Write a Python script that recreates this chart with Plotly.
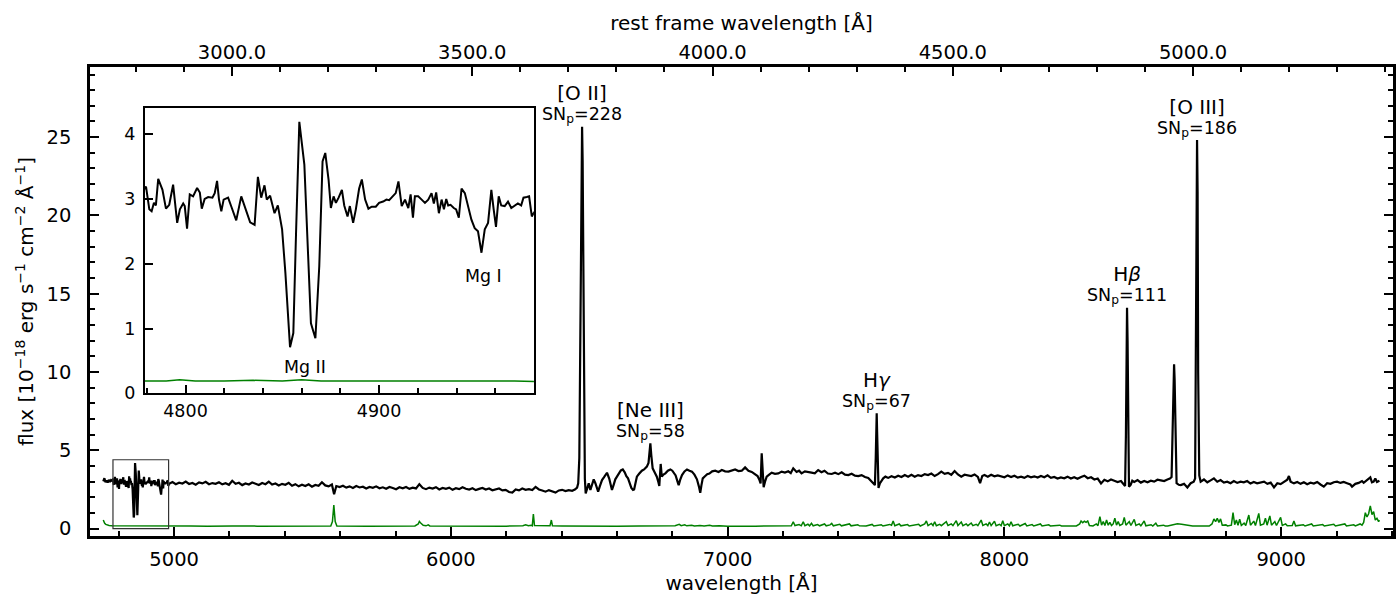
import plotly.graph_objects as go

FONT = "DejaVu Sans"
REDSHIFT = 0.7363

# Blue end of the spectrum, finely sampled (this stretch is also shown in the Mg II inset)
BLUE_WAVE = [
    4744, 4748, 4752, 4756, 4760, 4764, 4768, 4772, 4776,
    4779.6, 4781.3, 4782.5, 4783.7, 4784.7, 4785.9, 4788.1, 4789.9, 4791.6, 4793.6,
    4795.7, 4797.1, 4798.8, 4799.6, 4800.8, 4802.2, 4803.9, 4806.0, 4807.4, 4808.4,
    4809.9, 4811.7, 4813.9, 4815.1, 4816.3, 4817.3, 4818.5, 4819.7, 4822.0, 4823.7,
    4826.2, 4828.8, 4831.0, 4833.4, 4835.7, 4837.4, 4839.1, 4840.8, 4842.0, 4843.7,
    4846.0, 4847.7, 4849.9, 4851.6, 4854.0, 4855.7, 4857.1, 4858.8, 4861.4, 4864.8,
    4867.1, 4869.1, 4870.8, 4872.2, 4873.9, 4875.1, 4876.5, 4877.7, 4879.1, 4880.8,
    4882.0, 4883.7, 4884.9, 4886.6, 4888.0, 4889.7, 4891.1, 4892.8, 4894.5, 4896.2,
    4898.3, 4900.0, 4902.1, 4903.8, 4905.2, 4906.9, 4908.6, 4910.0, 4911.7, 4913.4,
    4915.1, 4916.3, 4917.5, 4918.5, 4920.2, 4922.0, 4923.7, 4925.4, 4927.1, 4928.3,
    4929.5, 4930.9, 4932.3, 4933.5, 4934.7, 4935.7, 4936.9, 4938.6, 4939.8, 4941.2,
    4942.6, 4944.3, 4946.0, 4947.7, 4949.4, 4951.1, 4952.9, 4954.6, 4956.3, 4958.0,
    4959.2, 4960.4, 4961.8, 4963.1, 4964.9, 4966.6, 4968.3, 4970.0, 4971.7, 4973.4,
    4974.6, 4976.3, 4977.5, 4978.9, 4979.8,
]
BLUE_FLUX = [
    3.02, 3.22, 2.96, 3.08, 2.94, 3.12, 2.98, 3.10, 3.05,
    3.19, 2.84, 2.81, 2.94, 2.90, 3.31, 3.14, 2.85, 2.91, 3.22,
    2.63, 2.84, 2.93, 2.89, 2.54, 3.07, 3.04, 3.17, 3.10, 2.85,
    3.00, 3.03, 3.02, 3.09, 3.28, 2.99, 2.81, 2.99, 3.02, 2.88,
    2.67, 3.04, 2.85, 2.64, 2.60, 3.34, 3.02, 3.21, 2.99, 3.05,
    2.78, 2.90, 2.53, 1.86, 0.71, 0.93, 2.47, 4.19, 3.53, 1.08,
    0.85, 1.96, 3.58, 3.71, 3.30, 2.86, 3.04, 2.94, 3.02, 3.14,
    2.90, 2.73, 2.89, 2.63, 2.84, 3.16, 3.30, 2.99, 2.85, 2.88,
    2.88, 2.94, 2.96, 2.99, 2.98, 3.04, 3.09, 3.27, 2.89, 2.99,
    2.86, 3.07, 2.71, 3.04, 3.04, 2.99, 2.94, 2.99, 3.09, 2.93,
    3.10, 2.78, 2.99, 2.84, 3.00, 2.90, 2.91, 2.86, 2.84, 2.71,
    3.16, 3.09, 2.89, 2.68, 2.55, 2.50, 2.17, 2.53, 2.63, 3.14,
    2.84, 2.57, 3.04, 2.90, 2.89, 2.96, 2.86, 2.90, 2.93, 2.90,
    3.02, 3.03, 3.04, 2.73, 2.78,
]

# Rest of the spectrum, from 4982 A to the red end
RED_WAVE = [
    4982, 4994, 5006, 5018, 5030, 5042, 5054, 5066, 5078, 5090, 5102, 5114, 5126, 5138,
    5150, 5162, 5174, 5186, 5198, 5210, 5222, 5234, 5246, 5258, 5270, 5282, 5294, 5306,
    5318, 5330, 5342, 5354, 5366, 5378, 5390, 5402, 5414, 5426, 5438, 5450, 5462, 5474,
    5486, 5498, 5510, 5522, 5534, 5546, 5558, 5570, 5578, 5586, 5598, 5610, 5622, 5634,
    5646, 5658, 5670, 5682, 5694, 5706, 5718, 5730, 5742, 5754, 5766, 5778, 5790, 5802,
    5814, 5826, 5838, 5850, 5862, 5874, 5886, 5898, 5910, 5922, 5934, 5946, 5958, 5970,
    5982, 5994, 6006, 6018, 6030, 6042, 6054, 6066, 6078, 6090, 6102, 6114, 6126, 6138,
    6150, 6162, 6174, 6186, 6198, 6210, 6222, 6234, 6246, 6258, 6270, 6282, 6294, 6306,
    6318, 6330, 6342, 6354, 6366, 6378, 6390, 6402, 6414, 6426, 6438, 6448, 6456,
    6460, 6464, 6467, 6470, 6472, 6474, 6476, 6478, 6481, 6484, 6487,
    6492, 6498, 6504, 6510, 6516, 6522, 6528, 6532, 6538, 6546, 6554, 6564, 6572, 6578,
    6582, 6588, 6594, 6600, 6608, 6614, 6621, 6628, 6634, 6640, 6646, 6652, 6658, 6662,
    6668, 6672, 6680, 6690, 6698, 6708, 6714, 6717, 6720.7, 6724, 6729, 6736, 6744, 6750,
    6753, 6758, 6762, 6768, 6775, 6784, 6793, 6800, 6806, 6812, 6818, 6823, 6828, 6835,
    6844, 6853, 6862, 6871, 6880, 6889, 6896, 6901, 6905, 6910, 6918, 6926, 6934, 6944,
    6955, 6967, 6979, 6991, 7003, 7015, 7027, 7039, 7051, 7063, 7075, 7087, 7099, 7108,
    7115, 7119, 7123, 7126, 7130, 7135, 7141, 7150, 7159, 7171, 7183, 7195, 7207, 7219,
    7228, 7237, 7249, 7258, 7267, 7279, 7291, 7303, 7315, 7327, 7339, 7350, 7362, 7376,
    7388, 7400, 7412, 7424, 7436, 7448, 7460, 7472, 7484, 7496, 7508, 7520, 7528, 7532,
    7535, 7537, 7538.5, 7540, 7542, 7545, 7550, 7556, 7562, 7570, 7580, 7592, 7604, 7616,
    7628, 7640, 7652, 7664, 7676, 7688, 7700, 7712, 7724, 7736, 7748, 7760, 7772, 7784,
    7796, 7808, 7820, 7832, 7844, 7856, 7868, 7880, 7892, 7904, 7912, 7920, 7928, 7940,
    7952, 7964, 7976, 7988, 8000, 8012, 8024, 8036, 8048, 8060, 8072, 8084, 8096, 8108,
    8120, 8132, 8144, 8156, 8168, 8180, 8192, 8204, 8216, 8228, 8240, 8252, 8264, 8277,
    8289, 8301, 8313, 8325, 8337, 8349, 8361, 8373, 8385, 8397, 8409, 8421, 8430, 8436,
    8439, 8441, 8443, 8445, 8447, 8450, 8456, 8462, 8469, 8481, 8493, 8505, 8517, 8529,
    8541, 8553, 8565, 8577, 8589, 8598, 8604, 8608, 8611, 8613, 8615, 8618, 8622, 8630,
    8637, 8649, 8661, 8673, 8684, 8689, 8692, 8694, 8696, 8698, 8700, 8704, 8709, 8721,
    8733, 8745, 8757, 8769, 8781, 8793, 8805, 8817, 8829, 8841, 8853, 8865, 8877, 8889,
    8901, 8913, 8926, 8938, 8950, 8962, 8974, 8986, 8998, 9010, 9022, 9028, 9034, 9046,
    9058, 9070, 9082, 9094, 9106, 9118, 9130, 9142, 9154, 9166, 9178, 9190, 9202, 9214,
    9226, 9238, 9250, 9256, 9268, 9280, 9292, 9298, 9310, 9316, 9322, 9328, 9334, 9340,
    9346, 9355,
]
RED_FLUX = [
    2.86, 2.97, 2.84, 2.93, 2.88, 3.00, 2.85, 2.92, 2.81, 2.95, 2.89, 2.99, 2.84, 2.91,
    2.86, 2.96, 2.83, 2.90, 2.80, 3.06, 2.87, 2.93, 2.78, 2.88, 2.82, 2.95, 2.86, 2.79,
    2.91, 2.84, 3.00, 2.82, 2.88, 2.76, 2.86, 2.80, 2.92, 2.74, 2.84, 2.70, 2.80, 2.72,
    2.83, 2.68, 2.79, 2.74, 2.96, 2.76, 2.70, 2.82, 2.20, 2.72, 2.66, 2.74, 2.62, 2.70,
    2.60, 2.72, 2.63, 2.68, 2.56, 2.66, 2.61, 2.70, 2.58, 2.64, 2.55, 2.66, 2.60, 2.52,
    2.64, 2.58, 2.66, 2.54, 2.62, 2.57, 2.84, 2.60, 2.52, 2.62, 2.56, 2.65, 2.50, 2.60,
    2.54, 2.62, 2.48, 2.58, 2.52, 2.64, 2.55, 2.50, 2.58, 2.46, 2.54, 2.60, 2.50, 2.56,
    2.45, 2.52, 2.56, 2.44, 2.48, 2.34, 2.30, 2.50, 2.44, 2.56, 2.48, 2.52, 2.46, 2.66,
    2.50, 2.44, 2.36, 2.46, 2.40, 2.30, 2.44, 2.48, 2.40, 2.46, 2.42, 2.50, 2.62,
    2.90, 4.50, 10.0, 19.0, 24.0, 25.66, 23.5, 17.0, 8.0, 3.2, 2.25,
    2.55, 2.89, 2.47, 2.80, 3.15, 2.90, 2.50, 2.36, 2.70, 3.10, 3.30, 3.57, 3.20, 2.70,
    2.47, 2.80, 3.15, 3.32, 3.60, 3.72, 3.78, 3.60, 3.35, 3.21, 2.90, 2.60, 2.47, 2.50,
    3.00, 3.32, 3.50, 3.70, 3.78, 3.96, 4.20, 4.81, 5.45, 4.70, 3.85, 3.60, 3.32, 2.95,
    2.72, 4.13, 3.32, 3.45, 3.53, 3.70, 3.78, 3.70, 3.55, 3.40, 3.05, 2.78, 3.10, 3.42,
    3.65, 3.78, 3.70, 3.64, 3.45, 3.15, 2.70, 2.29, 2.75, 3.21, 3.35, 3.48, 3.52, 3.66,
    3.70, 3.62, 3.74, 3.66, 3.64, 3.72, 3.78, 3.68, 3.70, 3.91, 3.70, 3.62, 3.50, 3.36,
    3.10, 2.89, 4.81, 3.40, 2.64, 3.00, 3.32, 3.45, 3.57, 3.50, 3.53, 3.64, 3.58, 3.66,
    3.55, 3.85, 3.62, 3.70, 3.53, 3.66, 3.64, 3.58, 3.53, 3.74, 3.60, 3.70, 3.52, 3.49,
    3.57, 3.48, 3.60, 3.45, 3.42, 3.50, 3.38, 3.36, 3.42, 3.30, 3.24, 3.04, 2.90, 2.78,
    4.50, 6.80, 7.36, 6.20, 3.60, 2.60, 2.89, 3.10, 3.21, 3.32, 3.24, 3.35, 3.27, 3.38,
    3.30, 3.42, 3.32, 3.44, 3.32, 3.42, 3.36, 3.48, 3.42, 3.52, 3.36, 3.48, 3.64, 3.50,
    3.56, 3.44, 3.68, 3.46, 3.32, 3.44, 3.42, 3.36, 3.46, 3.30, 2.90, 3.36, 3.42, 3.32,
    3.44, 3.34, 3.40, 3.36, 3.28, 3.40, 3.30, 3.38, 3.26, 3.32, 3.24, 3.36, 3.28, 3.34,
    3.26, 3.36, 3.28, 3.40, 3.24, 3.30, 3.20, 3.27, 3.22, 3.32, 3.20, 3.28, 3.18, 3.30,
    3.38, 3.22, 3.28, 3.14, 3.20, 2.89, 3.12, 3.02, 3.14, 3.06, 2.98, 3.04, 2.80, 2.72,
    6.00, 12.5, 14.1, 12.0, 5.50, 2.68, 2.80, 3.06, 2.98, 3.10, 2.94, 3.04, 2.96, 3.06,
    3.00, 3.12, 3.08, 3.04, 3.14, 3.20, 3.30, 6.50, 9.80, 10.49, 9.50, 5.00, 2.90, 2.80,
    2.78, 2.86, 2.63, 2.90, 3.00, 3.20, 12.0, 22.0, 24.81, 21.5, 10.0, 3.40, 3.00, 3.14,
    2.96, 3.08, 3.21, 3.00, 3.10, 2.94, 3.00, 2.90, 3.04, 2.92, 3.00, 2.96, 3.04, 2.88,
    2.98, 2.90, 2.93, 3.00, 2.86, 2.94, 2.63, 2.90, 2.84, 2.96, 3.12, 3.36, 3.00, 2.89,
    2.98, 2.86, 2.96, 2.84, 2.93, 2.88, 2.98, 2.82, 2.68, 2.90, 2.86, 2.96, 3.00, 2.92,
    2.98, 2.90, 2.82, 2.68, 2.86, 2.92, 3.04, 2.93, 3.10, 3.22, 3.27, 2.96, 3.00, 3.20,
    2.98, 3.06,
]

# Flux uncertainty (green), with its sky-line residual spikes
ERR_WAVE = [
    4744, 4746, 4749, 4753, 4758, 4765, 4775, 4790, 4797, 4805, 4820, 4835, 4850, 4860,
    4870, 4890, 4910, 4930, 4950, 4970, 5000, 5060, 5120, 5190, 5200, 5210, 5300, 5400,
    5500, 5566, 5572, 5577, 5582, 5588, 5700, 5800, 5870, 5882, 5886, 5890, 5895, 5900,
    5910, 5918, 5924, 6000, 6100, 6200, 6260, 6270, 6280, 6290, 6294, 6298, 6302, 6340,
    6358, 6363, 6367, 6400, 6450, 6500, 6560, 6600, 6680, 6760, 6810, 6825, 6832, 6845,
    6852, 6870, 6880, 6900, 6915, 6935, 6945, 6970, 7000, 7100, 7200, 7230, 7237, 7243,
    7258, 7266, 7273, 7279, 7290, 7296, 7303, 7309, 7325, 7332, 7350, 7356, 7370, 7376,
    7382, 7405, 7411, 7440, 7446, 7470, 7476, 7500, 7522, 7528, 7555, 7561, 7585, 7592,
    7598, 7604, 7620, 7626, 7650, 7656, 7690, 7696, 7712, 7718, 7724, 7736, 7742, 7748,
    7754, 7766, 7772, 7784, 7790, 7796, 7808, 7814, 7826, 7832, 7844, 7850, 7862, 7868,
    7880, 7886, 7898, 7904, 7916, 7922, 7934, 7940, 7946, 7952, 7964, 7970, 7982, 7988,
    7994, 8000, 8012, 8018, 8024, 8030, 8050, 8056, 8075, 8081, 8100, 8106, 8130, 8136,
    8160, 8166, 8200, 8206, 8240, 8260, 8272, 8277, 8283, 8289, 8295, 8301, 8307, 8320,
    8332, 8338, 8345, 8351, 8357, 8363, 8369, 8375, 8381, 8387, 8393, 8399, 8405, 8411,
    8417, 8427, 8433, 8439, 8451, 8457, 8469, 8475, 8487, 8493, 8505, 8511, 8530, 8536,
    8547, 8553, 8575, 8581, 8590, 8610, 8625, 8640, 8655, 8668, 8680, 8740, 8750, 8757,
    8763, 8769, 8775, 8781, 8787, 8800, 8806, 8820, 8826, 8832, 8838, 8844, 8850, 8856,
    8866, 8872, 8883, 8889, 8901, 8907, 8919, 8925, 8937, 8943, 8949, 8959, 8965, 8977,
    8983, 8998, 9004, 9016, 9022, 9040, 9046, 9052, 9080, 9086, 9110, 9116, 9150, 9156,
    9190, 9196, 9230, 9236, 9262, 9268, 9285, 9292, 9298, 9304, 9310, 9316, 9322, 9328,
    9334, 9340, 9346, 9352, 9355,
]
ERR_FLUX = [
    0.55, 0.44, 0.34, 0.27, 0.23, 0.20, 0.19, 0.19, 0.21, 0.19, 0.19, 0.20, 0.19, 0.21,
    0.19, 0.19, 0.18, 0.19, 0.18, 0.19, 0.17, 0.17, 0.16, 0.17, 0.20, 0.17, 0.16, 0.16,
    0.16, 0.17, 0.45, 1.50, 0.45, 0.17, 0.16, 0.16, 0.17, 0.30, 0.46, 0.38, 0.30, 0.22,
    0.18, 0.24, 0.17, 0.16, 0.16, 0.16, 0.18, 0.24, 0.18, 0.22, 0.18, 0.93, 0.20, 0.17,
    0.18, 0.55, 0.18, 0.17, 0.16, 0.16, 0.17, 0.16, 0.17, 0.16, 0.18, 0.27, 0.19, 0.24,
    0.18, 0.22, 0.17, 0.20, 0.17, 0.21, 0.17, 0.19, 0.16, 0.16, 0.17, 0.18, 0.44, 0.20,
    0.26, 0.18, 0.44, 0.19, 0.28, 0.18, 0.34, 0.18, 0.26, 0.18, 0.30, 0.18, 0.24, 0.33,
    0.18, 0.28, 0.18, 0.30, 0.18, 0.25, 0.18, 0.17, 0.27, 0.17, 0.25, 0.17, 0.27, 0.22,
    0.49, 0.19, 0.30, 0.18, 0.26, 0.17, 0.28, 0.17, 0.30, 0.49, 0.19, 0.33, 0.20, 0.44,
    0.19, 0.28, 0.19, 0.34, 0.44, 0.20, 0.30, 0.19, 0.51, 0.20, 0.42, 0.19, 0.30, 0.19,
    0.36, 0.19, 0.28, 0.19, 0.55, 0.20, 0.30, 0.19, 0.42, 0.19, 0.47, 0.19, 0.28, 0.19,
    0.51, 0.19, 0.30, 0.18, 0.44, 0.18, 0.28, 0.17, 0.33, 0.17, 0.26, 0.17, 0.30, 0.17,
    0.24, 0.17, 0.22, 0.17, 0.20, 0.17, 0.30, 0.49, 0.38, 0.47, 0.40, 0.49, 0.20, 0.17,
    0.30, 0.19, 0.76, 0.22, 0.45, 0.20, 0.55, 0.22, 0.40, 0.20, 0.30, 0.66, 0.22, 0.45,
    0.20, 0.30, 0.72, 0.22, 0.45, 0.20, 0.59, 0.20, 0.30, 0.18, 0.49, 0.18, 0.25, 0.17,
    0.35, 0.17, 0.22, 0.17, 0.17, 0.26, 0.31, 0.28, 0.24, 0.20, 0.17, 0.17, 0.30, 0.62,
    0.45, 0.66, 0.40, 0.62, 0.22, 0.24, 0.17, 0.22, 1.02, 0.25, 0.55, 0.22, 0.60, 0.20,
    0.35, 0.20, 0.87, 0.22, 0.48, 0.20, 0.97, 0.22, 0.30, 0.66, 0.22, 0.81, 0.22, 0.45,
    0.20, 0.72, 0.20, 0.30, 0.18, 0.20, 0.49, 0.18, 0.25, 0.17, 0.30, 0.17, 0.26, 0.17,
    0.28, 0.17, 0.30, 0.17, 0.24, 0.17, 0.30, 0.22, 0.40, 1.02, 0.75, 0.95, 1.46, 0.90,
    1.08, 0.55, 0.66, 0.45, 0.55,
]

# Emission lines: label, peak S/N, observed wavelength of the peak
LINE_NAMES = ["[O II]", "[Ne III]", "H<i>γ</i>", "H<i>β</i>", "[O III]"]
LINE_SN = [228, 58, 67, 111, 186]
LINE_WAVE = [6474, 6720.7, 7538.5, 8443, 8696]

# Absorption features labelled in the inset
INSET_LABELS = ["Mg II", "Mg I"]
INSET_LABEL_WAVE = [4861.8, 4954.0]
INSET_LABEL_FLUX = [0.41, 1.81]

X_RANGE = [4696, 9404]
Y_RANGE = [-0.47, 29.48]
INSET_X = [4779, 4980]
INSET_Y = [0, 4.4]

wave = BLUE_WAVE + RED_WAVE
flux = BLUE_FLUX + RED_FLUX
rest_range = [v / (1 + REDSHIFT) for v in X_RANGE]

fig = go.Figure()

# main panel
fig.add_trace(go.Scatter(x=wave, y=flux, mode="lines", line=dict(color="black", width=2.2),
                         xaxis="x", yaxis="y", hoverinfo="skip"))
fig.add_trace(go.Scatter(x=ERR_WAVE, y=ERR_FLUX, mode="lines", line=dict(color="green", width=1.5),
                         xaxis="x", yaxis="y", hoverinfo="skip"))
# carrier for the rest-frame axis on top (not visible)
fig.add_trace(go.Scatter(x=[w / (1 + REDSHIFT) for w in wave], y=flux, mode="lines",
                         line=dict(width=0, color="rgba(0,0,0,0)"), opacity=0,
                         xaxis="x2", yaxis="y", hoverinfo="skip"))
# inset zoom around Mg II
fig.add_trace(go.Scatter(x=wave, y=flux, mode="lines", line=dict(color="black", width=2),
                         xaxis="x3", yaxis="y3", hoverinfo="skip"))
fig.add_trace(go.Scatter(x=ERR_WAVE, y=ERR_FLUX, mode="lines", line=dict(color="green", width=1.5),
                         xaxis="x3", yaxis="y3", hoverinfo="skip"))

# zoom region marker on the main panel
fig.add_shape(type="rect", xref="x", yref="y", x0=INSET_X[0], x1=INSET_X[1],
              y0=INSET_Y[0], y1=INSET_Y[1], line=dict(color="#333333", width=1.2))


def peak_near(w0, half=8):
    return max(f for w, f in zip(wave, flux) if abs(w - w0) <= half)


annotations = []
for name, sn, w0 in zip(LINE_NAMES, LINE_SN, LINE_WAVE):
    top = peak_near(w0)
    label = (f"<span style='font-size:20px'>{name}</span><br>"
             f"<span style='font-size:17.5px'>SN<sub>p</sub>={sn}</span>")
    annotations.append(dict(x=w0, y=top, xref="x", yref="y", text=label, showarrow=False,
                            yanchor="middle", xanchor="center", yshift=23,
                            font=dict(size=15)))
for name, w0, f0 in zip(INSET_LABELS, INSET_LABEL_WAVE, INSET_LABEL_FLUX):
    annotations.append(dict(x=w0, y=f0, xref="x3", yref="y3", text=name, showarrow=False,
                            yanchor="middle", xanchor="center", font=dict(size=17.4)))

axis_common = dict(showline=True, linecolor="black", showgrid=False, zeroline=False,
                   ticks="inside", tickcolor="black")

fig.update_layout(
    width=1400, height=595,
    margin=dict(l=90, r=4, t=67, b=59),
    paper_bgcolor="white", plot_bgcolor="white",
    showlegend=False,
    font=dict(family=FONT, color="black", size=19.5),
    xaxis=dict(**axis_common, range=X_RANGE, domain=[0, 1], anchor="y",
               tick0=0, dtick=1000, tickformat="d", ticklen=9, tickwidth=1.5,
               linewidth=2.5, mirror=False, ticklabelstandoff=4,
               minor=dict(dtick=200, tick0=0, ticks="inside", ticklen=5, tickwidth=1.5,
                          tickcolor="black", showgrid=False),
               title=dict(text="wavelength [Å]", font=dict(size=20), standoff=6)),
    xaxis2=dict(**axis_common, range=rest_range, overlaying="x", side="top", anchor="y",
                tick0=0, dtick=500, tickformat=".1f", ticklen=9, tickwidth=1.5,
                linewidth=2.5, ticklabelstandoff=-3,
                minor=dict(dtick=100, tick0=0, ticks="inside", ticklen=5, tickwidth=1.5,
                           tickcolor="black", showgrid=False),
                title=dict(text="rest frame wavelength [Å]", font=dict(size=20), standoff=6)),
    yaxis=dict(**axis_common, range=Y_RANGE, domain=[0, 1], anchor="x",
               tick0=0, dtick=5, ticklen=9, tickwidth=1.5, linewidth=2.5,
               mirror="ticks", ticklabelstandoff=12,
               minor=dict(dtick=1, tick0=0, ticks="inside", ticklen=5, tickwidth=1.5,
                          tickcolor="black", showgrid=False),
               title=dict(text="flux [10<sup>−18</sup> erg s<sup>−1</sup> cm<sup>−2</sup> Å<sup>−1</sup>]",
                          font=dict(size=20), standoff=8)),
    xaxis3=dict(**axis_common, range=INSET_X, domain=[0.0421, 0.3407], anchor="y3",
                tick0=0, dtick=100, tickformat="d", ticklen=8, tickwidth=1.5, linewidth=2,
                mirror=True, ticklabelstandoff=1, tickfont=dict(size=17.5),
                minor=dict(dtick=20, tick0=0, ticks="inside", ticklen=5, tickwidth=1.5,
                           tickcolor="black", showgrid=False)),
    yaxis3=dict(**axis_common, range=INSET_Y, domain=[0.3043, 0.912], anchor="x3",
                tick0=0, dtick=1, ticklen=8, tickwidth=1.5, linewidth=2,
                mirror=True, ticklabelstandoff=4, tickfont=dict(size=17.5)),
    annotations=annotations,
)

fig.write_html("out.html")
